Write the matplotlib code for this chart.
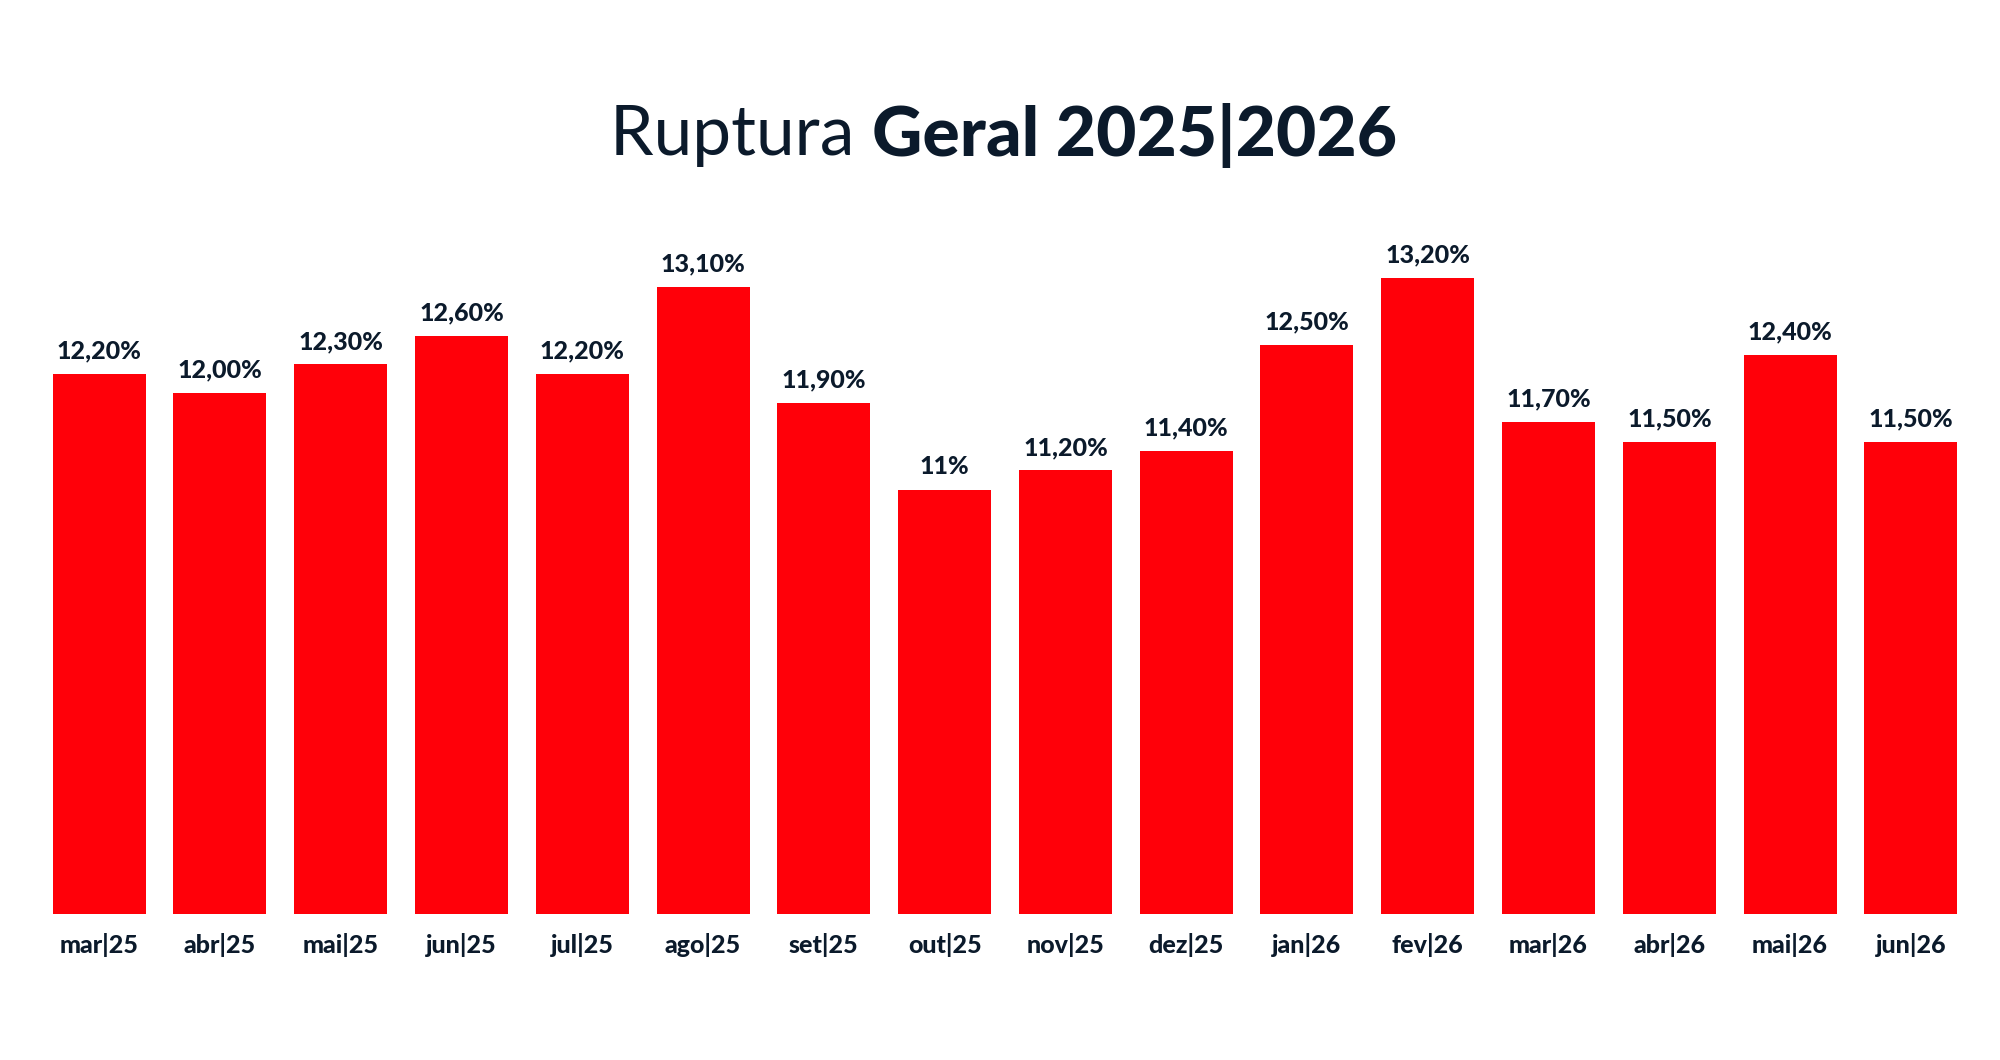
import matplotlib.pyplot as plt

months = ['mar|25', 'abr|25', 'mai|25', 'jun|25', 'jul|25', 'ago|25', 'set|25', 'out|25',
          'nov|25', 'dez|25', 'jan|26', 'fev|26', 'mar|26', 'abr|26', 'mai|26', 'jun|26']
values = [12.2, 12.0, 12.3, 12.6, 12.2, 13.1, 11.9, 11.0, 11.2, 11.4, 12.5, 13.2, 11.7, 11.5, 12.4, 11.5]
labels = ['12,20%', '12,00%', '12,30%', '12,60%', '12,20%', '13,10%', '11,90%', '11%',
          '11,20%', '11,40%', '12,50%', '13,20%', '11,70%', '11,50%', '12,40%', '11,50%']

navy = '#0b1a2b'
red = '#ff0009'

fig = plt.figure(figsize=(20, 10.6), dpi=100)
ax = fig.add_axes([0.026, 0.138, 0.953, 0.60])
x = range(len(months))
ax.bar(x, values, width=0.77, color=red)
ax.set_ylim(6.6, 13.2)
ax.set_xlim(-0.39, len(months) - 0.61)
for i, (v, lab) in enumerate(zip(values, labels)):
    ax.text(i, v + 0.12, lab, ha='center', va='bottom', fontsize=18, fontweight='black',
            color=navy, family='Lato', clip_on=False)
ax.set_xticks(list(x))
ax.set_xticklabels(months, fontsize=18, fontweight='black', color=navy, family='Lato')
ax.tick_params(axis='x', length=0, pad=14)
ax.set_yticks([])
for s in ax.spines.values():
    s.set_visible(False)

# title in two weights, centred together
fig.canvas.draw()
r = fig.canvas.get_renderer()
t1 = fig.text(0, 0.872, 'Ruptura ', fontsize=50, fontweight='normal', color=navy,
              family='Lato', va='center')
t2 = fig.text(0, 0.872, 'Geral 2025|2026', fontsize=50, fontweight='black', color=navy,
              family='Lato', va='center')
w1 = t1.get_window_extent(r).width / fig.bbox.width
w2 = t2.get_window_extent(r).width / fig.bbox.width
x0 = 0.502 - (w1 + w2) / 2
t1.set_x(x0)
t2.set_x(x0 + w1)

fig.savefig('out.png', dpi=100, facecolor='white')
